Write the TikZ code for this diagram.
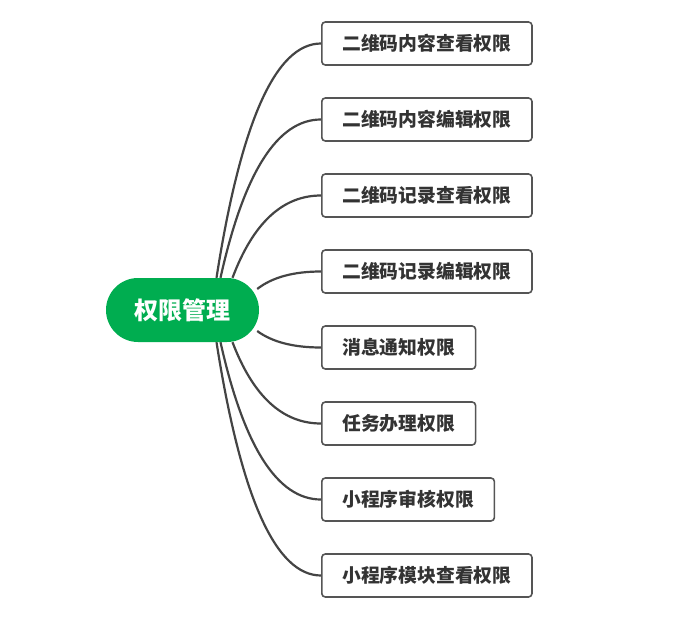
\documentclass[tikz,border=0pt]{standalone}
\usepackage{fontspec}
\newfontfamily\cjk{Noto Sans CJK SC}
\usetikzlibrary{calc,positioning,backgrounds}
\definecolor{rootgreen}{RGB}{0,173,80}
\definecolor{linegray}{RGB}{68,68,68}
\definecolor{boxgray}{RGB}{85,85,85}
\tikzset{
  root/.style={fill=rootgreen, text=white, rounded corners=32pt, minimum width=153pt,
    minimum height=64pt, font=\cjk\bfseries\fontsize{24}{28}\selectfont},
  leaf/.style={draw=boxgray, line width=1.6pt, fill=white, rounded corners=3.5pt,
    minimum height=43pt, inner xsep=20.5pt, text=black!80,
    font=\cjk\bfseries\fontsize{18.8}{22}\selectfont},
  branch/.style={draw=linegray, line width=2.2pt}
}
\begin{document}
\begin{tikzpicture}[x=1pt,y=-1pt]
  \useasboundingbox (0,0) rectangle (681,627);
  \node[root] (root) at (182.5,310) {权限管理};
  % leaves, top to bottom
  \foreach \i/\t in {1/二维码内容查看权限,2/二维码内容编辑权限,3/二维码记录查看权限,4/二维码记录编辑权限,
                     5/消息通知权限,6/任务办理权限,7/小程序审核权限,8/小程序模块查看权限}{
    \node[leaf, anchor=west] (l\i) at (321,{43.5+76*(\i-1)}) {\t};
  }
  % curved connectors behind the root
  \begin{scope}[on background layer]
  \foreach \i/\a/\dx/\dy in {1/north/34/0,2/north/38/0,3/north/50/0,4/east/-2/-21,
                             5/east/-2/21,6/south/50/0,7/south/38/0,8/south/34/0}{
    \coordinate (s) at ($(root.\a)+(\dx,\dy)$);
    \coordinate (m) at ($(s)!0.35!(l\i.west)$);
    \coordinate (q) at (m |- l\i.west);
    \draw[branch] (s) .. controls ($(s)!2/3!(q)$) and ($(l\i.west)!2/3!(q)$) .. (l\i.west);
  }
  \end{scope}
\end{tikzpicture}
\end{document}
